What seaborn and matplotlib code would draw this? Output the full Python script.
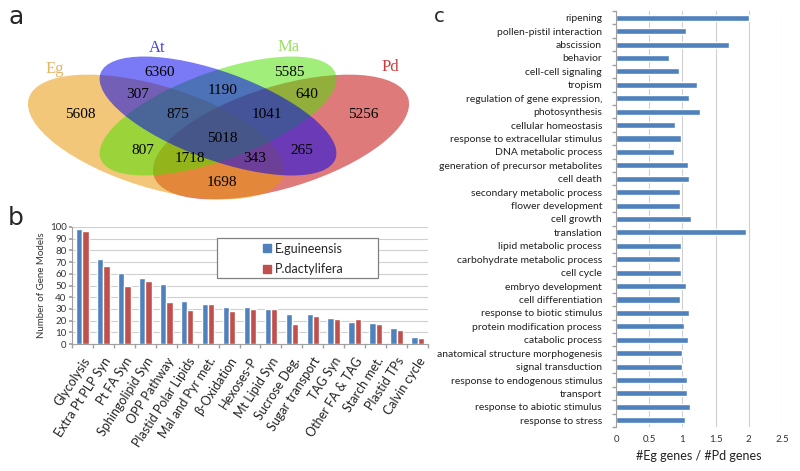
import matplotlib
matplotlib.use("Agg")
import matplotlib.pyplot as plt
from matplotlib.patches import Ellipse, Rectangle, Patch
import seaborn as sns
import pandas as pd

# --- panel a: venn counts ---
set_names = ["Eg", "At", "Ma", "Pd"]
set_fill = ["#e89400", "#0000f0", "#4be100", "#c30000"]
set_text = ["#e6b464", "#4545e0", "#99e066", "#cc3b3b"]
region_keys = ["Eg", "At", "Ma", "Pd", "Eg&At", "At&Ma", "Ma&Pd", "Eg&At&Ma",
               "At&Ma&Pd", "Eg&At&Ma&Pd", "Eg&Ma", "At&Pd", "Eg&Ma&Pd",
               "Eg&At&Pd", "Eg&Pd"]
region_counts = [5608, 6360, 5585, 5256, 307, 1190, 640, 875,
                 1041, 5018, 807, 265, 1718, 343, 1698]

# --- panel b: gene models per pathway ---
pathways = ["Glycolysis", "Extra Pt PLP Syn", "Pt FA Syn", "Sphingolipid Syn",
            "OPP Pathway", "Plastid Polar Lipids", "Mal and Pyr met.",
            "β-Oxidation", "Hexoses-P", "Mt Lipid Syn", "Sucrose Deg.",
            "Sugar transport", "TAG Syn", "Other FA & TAG", "Starch met.",
            "Plastid TPs", "Calvin cycle"]
eg_models = [98, 73, 61, 56, 51, 37, 34, 32, 32, 30, 26, 26, 22, 19, 18, 14, 6]
pd_models = [97, 67, 50, 54, 36, 29, 34, 28, 30, 30, 17, 24, 21, 21, 17, 12, 5]
species = ["E.guineensis", "P.dactylifera"]

# --- panel c: GO term ratios ---
go_terms = ["ripening", "pollen-pistil interaction", "abscission", "behavior",
            "cell-cell signaling", "tropism", "regulation of gene expression,",
            "photosynthesis", "cellular homeostasis",
            "response to extracellular stimulus", "DNA metabolic process",
            "generation of precursor metabolites", "cell death",
            "secondary metabolic process", "flower development", "cell growth",
            "translation", "lipid metabolic process",
            "carbohydrate metabolic process", "cell cycle", "embryo development",
            "cell differentiation", "response to biotic stimulus",
            "protein modification process", "catabolic process",
            "anatomical structure morphogenesis", "signal transduction",
            "response to endogenous stimulus", "transport",
            "response to abiotic stimulus", "response to stress"]
go_ratio = [2.0, 1.055, 1.70, 0.80, 0.945, 1.22, 1.10, 1.26, 0.89, 0.98, 0.88,
            1.08, 1.095, 0.965, 0.97, 1.13, 1.955, 0.98, 0.965, 0.98, 1.05,
            0.965, 1.10, 1.025, 1.08, 1.0, 1.0, 1.07, 1.07, 1.11, 1.035]

blue = "#4f81bd"
red = "#c0504d"

W, H = 800, 471


def px_rect(x0, y0, x1, y1):
    return [x0 / W, 1 - y1 / H, (x1 - x0) / W, (y1 - y0) / H]


sns.set_theme(style="white")
plt.rcParams["font.family"] = ["Lato", "DejaVu Sans"]

fig = plt.figure(figsize=(W / 100, H / 100), dpi=100)

# ---------------- a: venn ----------------
ax_a = fig.add_axes(px_rect(0, 30, 420, 210))
ax_a.set_xlim(0, 420)
ax_a.set_ylim(210, 30)
ax_a.axis("off")

# (cx, cy, half-length, half-width, angle) in pixel space
ellipse_layout = {"Eg": (156, 137, 133, 51, 17), "At": (218, 116, 125, 44, 20),
                  "Ma": (218, 116, 125, 44, -20), "Pd": (281, 137, 133, 51, -17)}
draw_order = ["Pd", "Eg", "Ma", "At"]
fill_of = dict(zip(set_names, set_fill))
for name in draw_order:
    cx, cy, a, b, ang = ellipse_layout[name]
    ax_a.add_patch(Ellipse((cx, cy), 2 * a, 2 * b, angle=ang,
                           facecolor=fill_of[name], alpha=0.52, lw=0))

name_pos = [(55, 69), (157, 48), (289, 47), (390, 67)]
for name, (x, y), col in zip(set_names, name_pos, set_text):
    ax_a.text(x, y, name, color=col, ha="center", va="center",
              fontsize=12, family="Liberation Serif")

count_pos = {"Eg": (80, 115), "At": (160, 72), "Ma": (289, 72), "Pd": (363, 115),
             "Eg&At": (138, 95), "At&Ma": (223, 90), "Ma&Pd": (307, 95),
             "Eg&At&Ma": (178, 115), "At&Ma&Pd": (267, 115),
             "Eg&At&Ma&Pd": (222, 139), "Eg&Ma": (143, 150), "At&Pd": (302, 150),
             "Eg&Ma&Pd": (190, 158), "Eg&At&Pd": (255, 158), "Eg&Pd": (222, 182)}
for key, n in zip(region_keys, region_counts):
    x, y = count_pos[key]
    ax_a.text(x, y, str(n), ha="center", va="center", fontsize=11,
              family="Liberation Serif", color="black")

# ---------------- b: bars ----------------
df_b = pd.DataFrame({
    "pathway": pathways * 2,
    "species": [species[0]] * len(pathways) + [species[1]] * len(pathways),
    "count": eg_models + pd_models,
})
ax_b = fig.add_axes(px_rect(72, 227, 428, 344))
sns.barplot(data=df_b, x="pathway", y="count", hue="species",
            palette=[blue, red], width=0.6, saturation=1, ax=ax_b,
            legend=False)
ax_b.set_ylim(0, 100)
ax_b.set_xlim(-0.5, len(pathways) - 0.5)
ax_b.set_yticks(range(0, 101, 10))
ax_b.yaxis.grid(True, color="#d0d0d0", lw=0.8)
ax_b.set_axisbelow(True)
for s in ["top", "right"]:
    ax_b.spines[s].set_visible(False)
for s in ["left", "bottom"]:
    ax_b.spines[s].set_color("#a0a0a0")
    ax_b.spines[s].set_linewidth(0.8)
ax_b.set_xticks([i - 0.5 for i in range(len(pathways) + 1)], minor=True)
ax_b.tick_params(axis="x", which="minor", length=3, color="#a0a0a0", bottom=True)
ax_b.tick_params(axis="x", which="major", length=0, pad=8)
ax_b.tick_params(axis="y", length=2, color="#a0a0a0", left=True, pad=2,
                 labelsize=7, labelcolor="#333333")
ax_b.set_xticks(range(len(pathways)))
ax_b.set_xticklabels(pathways, rotation=57, ha="right", va="top",
                     rotation_mode="anchor", fontsize=9, color="#222222")
ax_b.set_xlabel("")
ax_b.set_ylabel("Number of Gene Models", fontsize=7, color="#333333", labelpad=3)

fig.patches.append(Rectangle((217 / W, 1 - 278 / H), 161 / W, 40 / H,
                             transform=fig.transFigure, facecolor="white",
                             edgecolor="#808080", lw=0.9, zorder=3))
handles = [Patch(color=blue), Patch(color=red)]
fig.legend(handles, species, loc="center left",
           bbox_to_anchor=(252 / W, 1 - 259 / H), frameon=False, fontsize=9,
           handlelength=0.6, handleheight=0.6, handletextpad=0.35,
           labelspacing=0.7).set_zorder(4)

# ---------------- c: GO ratios ----------------
ax_c = fig.add_axes(px_rect(616, 11, 782, 427))
sns.barplot(x=go_ratio, y=go_terms, orient="h", color=blue, width=0.45,
            saturation=1, ax=ax_c)
ax_c.set_xlim(0, 2.5)
ax_c.set_xticks([0, 0.5, 1, 1.5, 2, 2.5])
ax_c.set_xticklabels(["0", "0.5", "1", "1.5", "2", "2.5"])
ax_c.xaxis.grid(True, color="#cfcfcf", lw=0.8)
ax_c.set_axisbelow(True)
for s in ["top", "right", "bottom"]:
    ax_c.spines[s].set_visible(False)
ax_c.spines["left"].set_color("#a0a0a0")
ax_c.spines["left"].set_linewidth(0.8)
ax_c.set_yticks([i - 0.5 for i in range(len(go_terms) + 1)], minor=True)
ax_c.tick_params(axis="y", which="minor", length=3, color="#a0a0a0", left=True)
ax_c.tick_params(axis="y", which="major", length=0, pad=10, labelsize=7.5,
                 labelcolor="#222222")
ax_c.tick_params(axis="x", length=0, pad=6, labelsize=7, labelcolor="#333333")
ax_c.set_xlabel("#Eg genes / #Pd genes", fontsize=9, color="#222222", labelpad=4)
ax_c.set_ylabel("")

# panel letters
fig.text(16 / W, 1 - 17 / H, "a", fontsize=18, ha="center", va="center",
         family="DejaVu Sans")
fig.text(16 / W, 1 - 218 / H, "b", fontsize=18, ha="center", va="center",
         family="DejaVu Sans")
fig.text(439 / W, 1 - 17 / H, "c", fontsize=14, ha="center", va="center",
         family="DejaVu Sans")

fig.savefig("out.png", dpi=100)
